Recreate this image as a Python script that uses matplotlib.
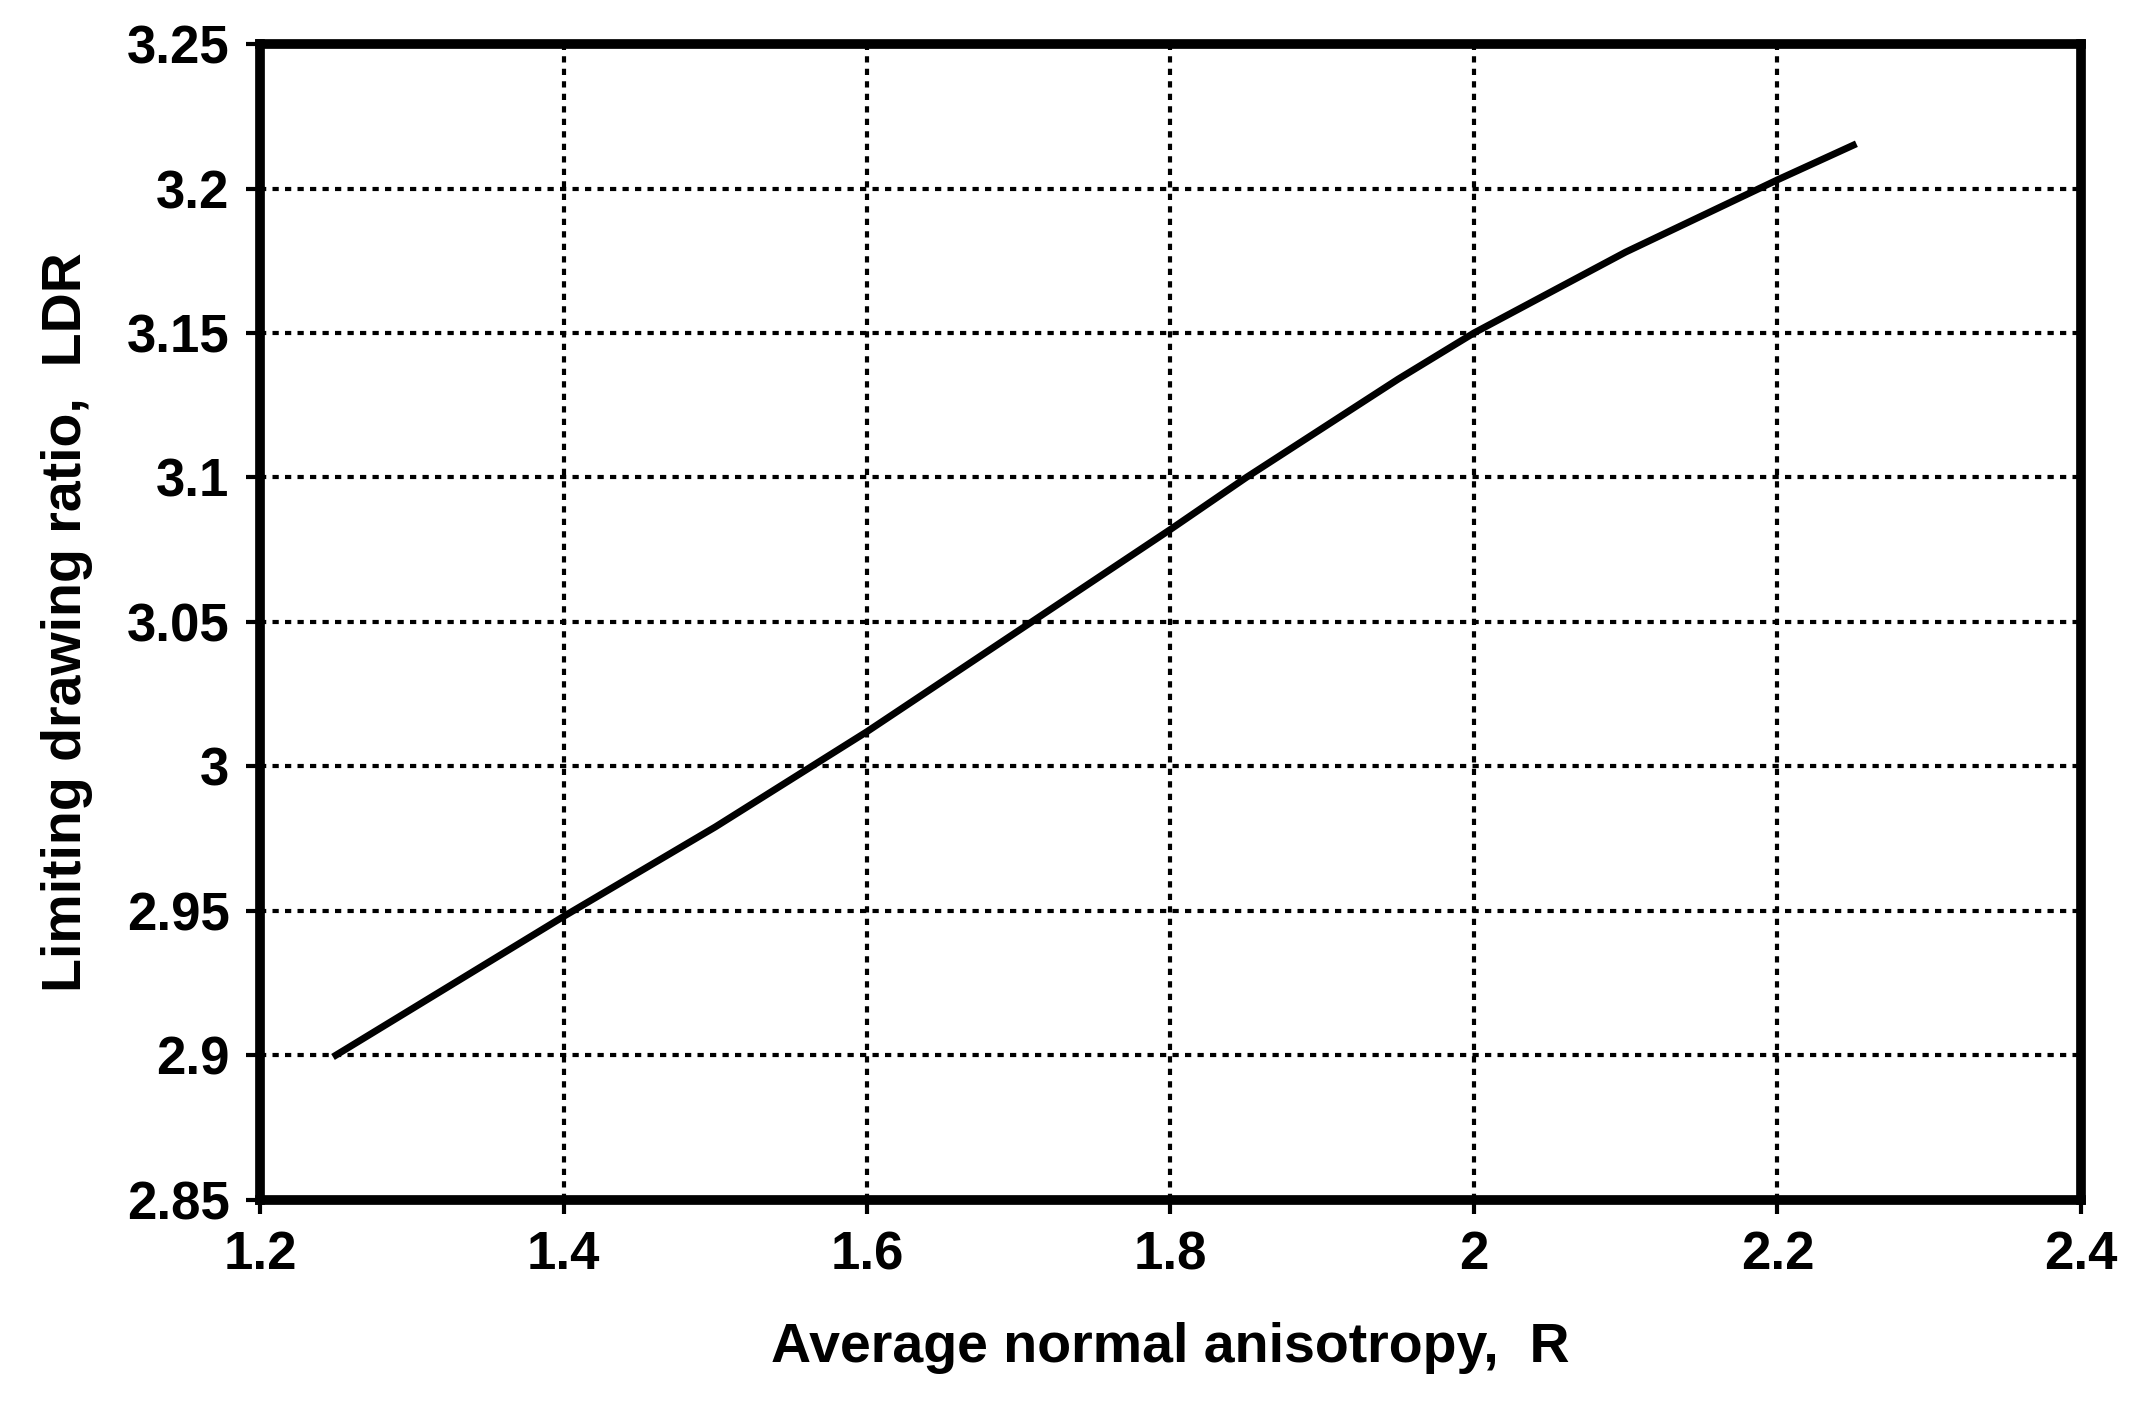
import matplotlib
matplotlib.use("Agg")
import matplotlib.pyplot as plt

r_values = [1.25, 1.3, 1.4, 1.5, 1.6, 1.7, 1.8, 1.85, 1.9, 1.95, 2.0, 2.1, 2.2, 2.25]
ldr_values = [2.900, 2.916, 2.948, 2.979, 3.012, 3.047, 3.082, 3.100, 3.117, 3.134, 3.150, 3.178, 3.203, 3.215]

plt.rcParams['font.family'] = ['Liberation Sans', 'DejaVu Sans']
plt.rcParams['font.weight'] = 'bold'

fig = plt.figure(figsize=(21.32, 14.23), dpi=100)
ax = fig.add_axes([0.122, 0.157, 0.854, 0.812])

ax.plot(r_values, ldr_values, color="black", lw=5)

ax.set_xlim(1.2, 2.4)
ax.set_ylim(2.85, 3.25)
ax.set_xticks([1.2, 1.4, 1.6, 1.8, 2.0, 2.2, 2.4])
ax.set_xticklabels(["1.2", "1.4", "1.6", "1.8", "2", "2.2", "2.4"])
ax.set_yticks([2.85, 2.9, 2.95, 3.0, 3.05, 3.1, 3.15, 3.2, 3.25])
ax.set_yticklabels(["2.85", "2.9", "2.95", "3", "3.05", "3.1", "3.15", "3.2", "3.25"])
ax.grid(True, color="black", linestyle=(0, (1.5, 1.5)), lw=3)

for s in ax.spines.values():
    s.set_linewidth(7)
ax.tick_params(direction="out", length=10, width=3, labelsize=38, pad=12)

ax.set_xlabel("Average normal anisotropy,  R", fontsize=40, fontweight="bold", labelpad=30)
ax.set_ylabel("Limiting drawing ratio,  LDR", fontsize=40, fontweight="bold", labelpad=24)

fig.savefig("out.png", dpi=100)
